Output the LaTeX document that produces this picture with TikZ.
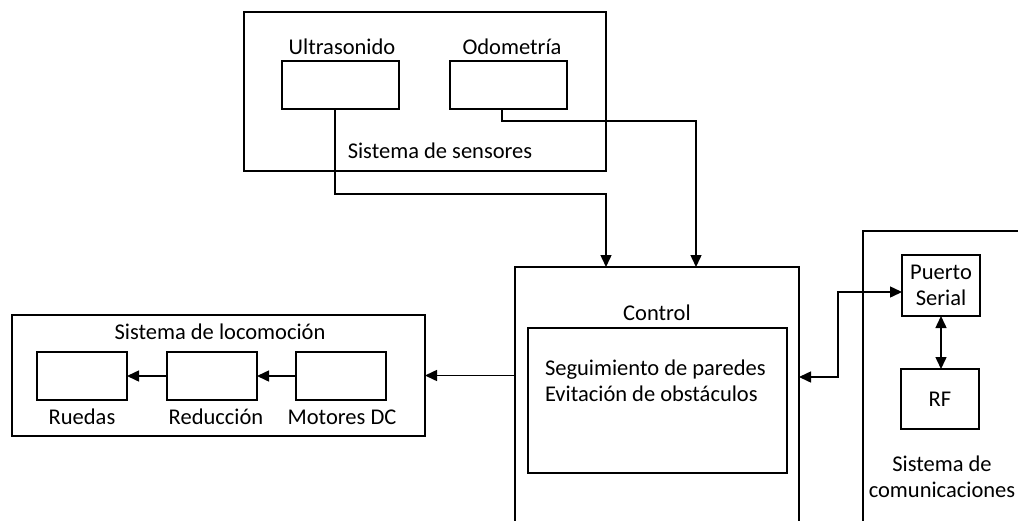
\documentclass[tikz,border=0pt]{standalone}
\usepackage{fontspec}
\setmainfont{Carlito}
\usetikzlibrary{arrows.meta}
\begin{document}
\begin{tikzpicture}[x=1pt,y=-1pt,
  box/.style={draw,line width=1.5pt,inner sep=0pt,outer sep=0pt},
  lbl/.style={inner sep=0pt,outer sep=0pt,font=\fontsize{22.5}{26.5}\selectfont},
  conn/.style={line width=1.5pt},
  arr/.style={conn,-{Triangle[length=12pt,width=11pt]}},
  dbl/.style={conn,{Triangle[length=12pt,width=11pt]}-{Triangle[length=12pt,width=11pt]}}]
\useasboundingbox (0,0) rectangle (1018,520);
\clip (0,0) rectangle (1018,520);
% sensors
\node[box,minimum width=362pt,minimum height=159pt] (sens) at (425,91.5) {};
\node[box,minimum width=117pt,minimum height=48pt] (ultra) at (340.5,85) {};
\node[box,minimum width=117pt,minimum height=48pt] (odo) at (508.5,85) {};
\node[lbl] (ultral) at (342,47) {Ultrasonido};
\node[lbl] (odol) at (512,47) {Odometría};
\node[lbl] (sensl) at (440,151) {Sistema de sensores};
% control
\node[box,minimum width=284pt,minimum height=280pt] (ctrl) at (657,407) {};
\node[lbl] (ctrll) at (657,313) {Control};
\node[box,minimum width=259pt,minimum height=145pt] (inner) at (657.5,400.5) {};
\node[lbl,anchor=west,align=left] (innerl) at (545,381) {Seguimiento de paredes\\Evitación de obstáculos};
% communications
\node[box,minimum width=167pt,minimum height=316pt] (comm) at (946.5,389) {};
\node[box,minimum width=78pt,minimum height=61pt,align=center,lbl] (puerto) at (941,285.5) {Puerto\\Serial};
\node[box,minimum width=78pt,minimum height=60pt,lbl] (rf) at (940,399) {RF};
\node[lbl,align=center] (comml) at (942,477) {Sistema de\\comunicaciones};
% locomotion
\node[box,minimum width=413pt,minimum height=121pt] (loco) at (218.5,375.5) {};
\node[lbl] (locol) at (220,332) {Sistema de locomoción};
\node[box,minimum width=90pt,minimum height=48pt] (ruedas) at (82,376) {};
\node[box,minimum width=90pt,minimum height=48pt] (reduc) at (212,376) {};
\node[box,minimum width=90pt,minimum height=48pt] (motor) at (341,376) {};
\node[lbl] (ruedasl) at (82,417) {Ruedas};
\node[lbl] (reducl) at (216,417) {Reducción};
\node[lbl] (motorl) at (342,417) {Motores DC};
% connectors
\draw[arr] ([xshift=-5.5pt]ultra.south) -- ++(0,85) -| ([xshift=-51pt]ctrl.north);
\draw[arr] ([xshift=-6.5pt]odo.south) -- ++(0,12) -| ([xshift=39pt]ctrl.north);
\draw[dbl] ([yshift=30pt]ctrl.east) -- ++(39,0) |- ([yshift=-6.5pt]puerto.west);
\draw[dbl] (puerto.south) -- (puerto.south |- rf.north);
\draw[arr] (ctrl.west |- loco.east) -- (loco.east);
\draw[arr] (motor.west) -- (reduc.east);
\draw[arr] (reduc.west) -- (ruedas.east);
\end{tikzpicture}
\end{document}
